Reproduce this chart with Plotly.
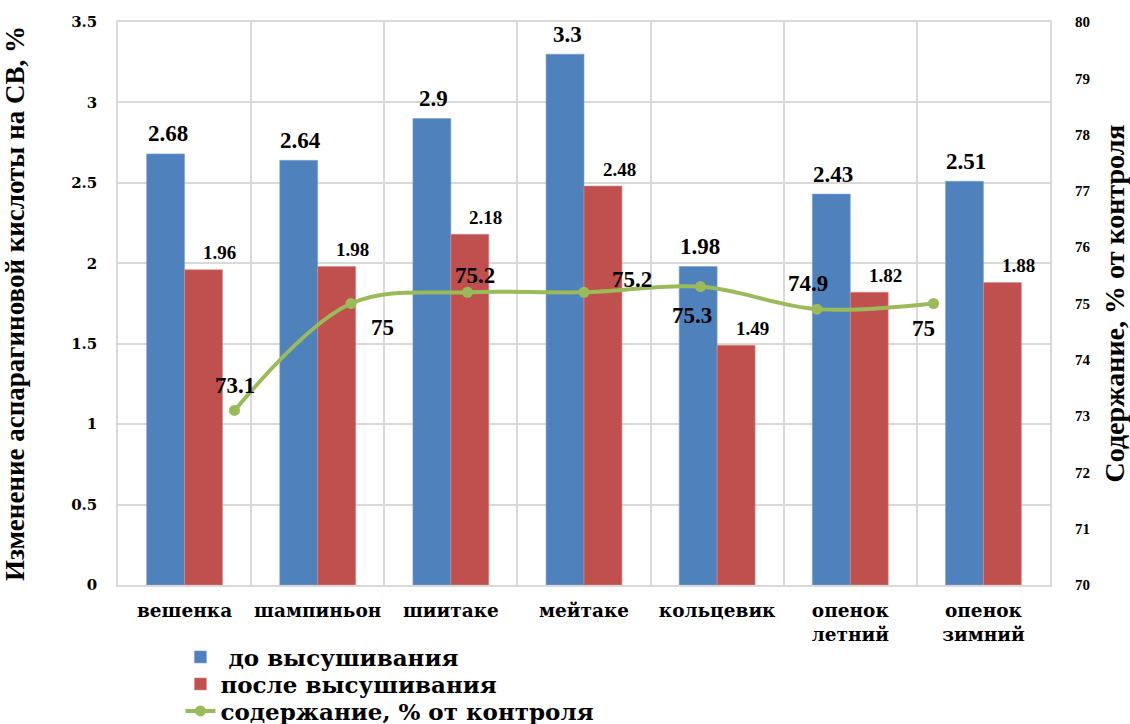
import plotly.graph_objects as go

categories = ["вешенка", "шампиньон", "шиитаке", "мейтаке", "кольцевик", "опенок<br>летний", "опенок<br>зимний"]
before_drying = [2.68, 2.64, 2.9, 3.3, 1.98, 2.43, 2.51]
after_drying = [1.96, 1.98, 2.18, 2.48, 1.49, 1.82, 1.88]
content_pct = [73.1, 75, 75.2, 75.2, 75.3, 74.9, 75]
line_positions = [1, 2, 3, 4, 5, 6, 7]

left_ticks = [0, 0.5, 1, 1.5, 2, 2.5, 3, 3.5]
left_ticktext = ["0", "0.5", "1", "1.5", "2", "2.5", "3", "3.5"]
right_ticks = [70, 71, 72, 73, 74, 75, 76, 77, 78, 79, 80]

# label offsets (pixels) for the line labels
line_label_shift = [(0, 25), (31, -24), (7, 17), (48, 13), (-9, -29), (-9, 26), (-10, -25)]

BLUE = "#4F81BD"
RED = "#C0504D"
GREEN = "#9BBB59"
GRID = "#D9D9D9"
SERIF = "Liberation Serif"
WIDE = "DejaVu Serif"

fig = go.Figure()
fig.add_trace(go.Bar(x=categories, y=before_drying, name=" до высушивания", legend="legend",
                     marker=dict(color=BLUE, line=dict(width=0.6, color="#7FA3D4"))))
fig.add_trace(go.Bar(x=categories, y=after_drying, name="после высушивания", legend="legend2",
                     marker=dict(color=RED, line=dict(width=0.6, color="#D88A88"))))
fig.add_trace(go.Scatter(x=line_positions, y=content_pct, name="содержание, % от контроля",
                         legend="legend3",
                         xaxis="x2", yaxis="y2", mode="lines+markers",
                         line=dict(color=GREEN, width=4, shape="spline", smoothing=1.0),
                         marker=dict(color=GREEN, size=11)))

annotations = []
for i, v in enumerate(before_drying):
    annotations.append(dict(x=i, y=v, xref="x", yref="y", text=f"<b>{v:g}</b>", showarrow=False,
                            xshift=-17, yshift=20, font=dict(family=SERIF, size=23, color="black")))
for i, v in enumerate(after_drying):
    annotations.append(dict(x=i, y=v, xref="x", yref="y", text=f"<b>{v:g}</b>", showarrow=False,
                            xshift=35, yshift=17, font=dict(family=SERIF, size=19, color="black")))
for xp, v, (dx, dy) in zip(line_positions, content_pct, line_label_shift):
    annotations.append(dict(x=xp, y=v, xref="x2", yref="y2", text=f"<b>{v:g}</b>", showarrow=False,
                            xshift=dx, yshift=dy, font=dict(family=SERIF, size=23, color="black")))

legend_font = dict(family=WIDE, size=23, color="black", weight="bold")
legend_common = dict(x=0.067, xanchor="left", yanchor="middle", orientation="v",
                     font=legend_font, itemwidth=30, bgcolor="rgba(0,0,0,0)")

fig.update_layout(
    width=1130, height=724,
    margin=dict(l=118, r=80, t=22, b=139, autoexpand=False),
    paper_bgcolor="white", plot_bgcolor="white",
    barmode="group", bargap=0.43, bargroupgap=0,
    font=dict(family=SERIF, color="black"),
    annotations=annotations,
    xaxis=dict(tickson="boundaries", showgrid=True, gridcolor=GRID, gridwidth=1.5,
               showline=True, linecolor=GRID, linewidth=1.5, mirror=True, automargin=False,
               ticks="", tickangle=0,
               tickfont=dict(family=WIDE, size=18.5, color="black", weight="bold"),
               ticklabelstandoff=8),
    xaxis2=dict(overlaying="x", range=[0, 8], visible=False, showgrid=False),
    yaxis=dict(range=[0, 3.5], tickvals=left_ticks, ticktext=left_ticktext, automargin=False,
               showgrid=True, gridcolor=GRID, gridwidth=1.5, zeroline=False,
               showline=True, linecolor=GRID, linewidth=1.5, mirror=True,
               tickfont=dict(family=WIDE, size=15, color="black", weight="bold"),
               ticklabelstandoff=16,
               title=dict(text="<b>Изменение аспарагиновой кислоты на СВ, %</b>",
                          font=dict(family=SERIF, size=27, color="black"), standoff=41)),
    yaxis2=dict(overlaying="y", side="right", range=[70, 80], tickvals=right_ticks, automargin=False,
                showgrid=False, zeroline=False, showline=False,
                tickfont=dict(family=SERIF, size=15, color="black", weight="bold"),
                ticklabelstandoff=24,
                title=dict(text="<b>Содержание, % от контроля</b>",
                           font=dict(family=SERIF, size=28, color="black"), standoff=14)),
    legend=dict(y=-0.1279, **legend_common),
    legend2=dict(y=-0.1758, **legend_common),
    legend3=dict(y=-0.2238, **legend_common),
    showlegend=True,
)

fig.write_html("out.html", config={"displayModeBar": False},
               post_script="document.body.style.margin='0';")
